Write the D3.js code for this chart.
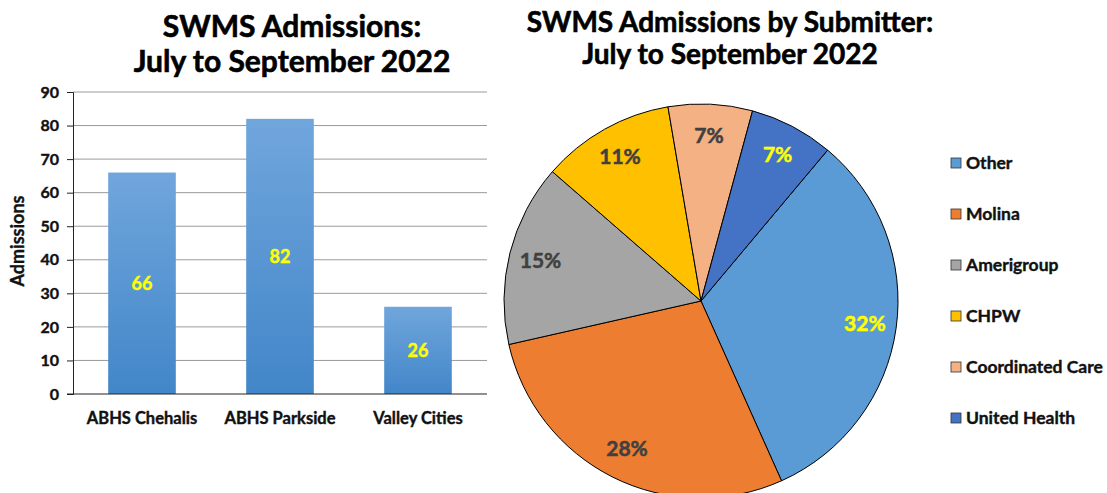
<!DOCTYPE html>
<html>
<head>
<meta charset="utf-8">
<script src="https://cdn.jsdelivr.net/npm/d3@7"></script>
<style>
  body { margin: 0; background: #fff; }
  text { font-family: Lato, "Open Sans", sans-serif; font-weight: bold; }
</style>
</head>
<body>
<script>
// bar chart data
var sites = ['ABHS Chehalis', 'ABHS Parkside', 'Valley Cities']
var admissions = [66, 82, 26]
var yTicks = [0, 10, 20, 30, 40, 50, 60, 70, 80, 90]

// pie chart data (admission counts by submitter)
var submitters = ['Other', 'Molina', 'Amerigroup', 'CHPW', 'Coordinated Care', 'United Health']
var submitterCounts = [56, 49, 26, 19, 12, 12]
var submitterColors = ['#5B9BD5', '#ED7D31', '#A5A5A5', '#FFC000', '#F4B183', '#4472C4']
var labelColors = ['#FFFF00', '#404040', '#404040', '#404040', '#404040', '#FFFF00']

var width = 1107,
    height = 493

var svg = d3.select('body').append('svg')
    .attr('width', width)
    .attr('height', height)

var defs = svg.append('defs')
var grad = defs.append('linearGradient')
    .attr('id', 'barGrad')
    .attr('x1', 0).attr('y1', 0).attr('x2', 0).attr('y2', 1)
grad.append('stop').attr('offset', '0%').attr('stop-color', '#70A6DC')
grad.append('stop').attr('offset', '100%').attr('stop-color', '#4286C9')

// thicken Lato bold a touch so it reads like the heavier original
function heavy(sel, w) {
    sel.attr('stroke', function () { return d3.select(this).attr('fill') })
        .attr('stroke-width', w)
        .attr('paint-order', 'stroke')
}

// ---- bar chart ----
var plot = {left: 73, right: 487, top: 92, bottom: 394}

var x = d3.scaleBand()
    .domain(sites)
    .range([plot.left, plot.right])
    .paddingInner(0.51)
    .paddingOuter(0.255)

var y = d3.scaleLinear()
    .domain([0, 90])
    .range([plot.bottom, plot.top])

// gridlines
svg.append('g')
    .selectAll('line')
    .data(yTicks.filter(d => d > 0))
    .enter().append('line')
    .attr('x1', plot.left)
    .attr('x2', plot.right)
    .attr('y1', d => y(d))
    .attr('y2', d => y(d))
    .attr('stroke', '#9A9A9A')
    .attr('stroke-width', 1)

var yAxis = svg.append('g')
    .attr('transform', 'translate(' + plot.left + ',0)')
    .call(d3.axisLeft(y).tickValues(yTicks).tickSize(6).tickPadding(8))
yAxis.select('.domain').attr('stroke', '#222')
yAxis.selectAll('.tick line').attr('stroke', '#222')
yAxis.selectAll('.tick text')
    .attr('font-size', 16)
    .attr('fill', '#111')
    .style('font-family', 'Lato, sans-serif')
    .style('font-weight', 'bold')
    .call(heavy, 0.4)

svg.append('g')
    .selectAll('rect')
    .data(admissions)
    .enter().append('rect')
    .attr('x', (d, i) => x(sites[i]))
    .attr('y', d => y(d))
    .attr('width', x.bandwidth())
    .attr('height', d => y(0) - y(d))
    .attr('fill', 'url(#barGrad)')

var xAxis = svg.append('g')
    .attr('transform', 'translate(0,' + plot.bottom + ')')
    .call(d3.axisBottom(x).tickSize(0).tickPadding(18))
xAxis.select('.domain').attr('stroke', '#222').attr('d', 'M' + (plot.left - 6) + ',0H' + plot.right)
xAxis.selectAll('.tick text')
    .attr('font-size', 16.5)
    .attr('fill', '#111')
    .style('font-family', 'Lato, sans-serif')
    .style('font-weight', 'bold')
    .call(heavy, 0.4)

svg.append('g')
    .selectAll('text')
    .data(admissions)
    .enter().append('text')
    .attr('x', (d, i) => x(sites[i]) + x.bandwidth() / 2)
    .attr('y', d => (y(d) + y(0)) / 2)
    .attr('dy', '0.35em')
    .attr('text-anchor', 'middle')
    .attr('font-size', 18)
    .attr('fill', '#FFFF00')
    .text(d => d)
    .call(heavy, 0.4)

svg.append('text')
    .attr('transform', 'translate(24,' + ((plot.top + plot.bottom) / 2 - 2) + ') rotate(-90)')
    .attr('text-anchor', 'middle')
    .attr('font-size', 18)
    .attr('fill', '#111')
    .text('Admissions')
    .call(heavy, 0.4)

var leftTitle = svg.append('text')
    .attr('text-anchor', 'middle')
    .attr('font-size', 30)
    .attr('fill', '#000')
leftTitle.append('tspan').attr('x', 292).attr('y', 37).text('SWMS Admissions:')
leftTitle.append('tspan').attr('x', 292).attr('y', 72).text('July to September 2022')
leftTitle.call(heavy, 0.6)

// ---- pie chart ----
var cx = 701, cy = 301, R = 197
var total = d3.sum(submitterCounts)

var pie = d3.pie()
    .sort(null)
    .startAngle(40 * Math.PI / 180)
    .endAngle(400 * Math.PI / 180)
var arcs = pie(submitterCounts)

var arc = d3.arc().innerRadius(0).outerRadius(R)
var labelArc = d3.arc().innerRadius(R * 0.84).outerRadius(R * 0.84)

var pieG = svg.append('g').attr('transform', 'translate(' + cx + ',' + cy + ')')
pieG.selectAll('path')
    .data(arcs)
    .enter().append('path')
    .attr('d', arc)
    .attr('fill', (d, i) => submitterColors[i])
    .attr('stroke', '#000')
    .attr('stroke-width', 1)

pieG.selectAll('text')
    .data(arcs)
    .enter().append('text')
    .attr('transform', d => 'translate(' + labelArc.centroid(d) + ')')
    .attr('dy', '0.35em')
    .attr('text-anchor', 'middle')
    .attr('font-size', 21)
    .attr('fill', (d, i) => labelColors[i])
    .text(d => Math.round(d.data / total * 100) + '%')
    .call(heavy, 0.5)

var rightTitle = svg.append('text')
    .attr('text-anchor', 'middle')
    .attr('font-size', 28)
    .attr('fill', '#000')
rightTitle.append('tspan').attr('x', 730).attr('y', 32).text('SWMS Admissions by Submitter:')
rightTitle.append('tspan').attr('x', 730).attr('y', 64).text('July to September 2022')
rightTitle.call(heavy, 0.6)

// legend
var legend = svg.append('g')
    .selectAll('g')
    .data(submitters)
    .enter().append('g')
    .attr('transform', (d, i) => 'translate(951,' + (158 + i * 51) + ')')
legend.append('rect')
    .attr('width', 10).attr('height', 10)
    .attr('fill', (d, i) => submitterColors[i])
    .attr('stroke', '#333')
    .attr('stroke-width', 0.8)
legend.append('text')
    .attr('x', 15)
    .attr('y', 5)
    .attr('dy', '0.35em')
    .attr('font-size', 17.5)
    .attr('fill', '#111')
    .text(d => d)
    .call(heavy, 0.4)
</script>
</body>
</html>
